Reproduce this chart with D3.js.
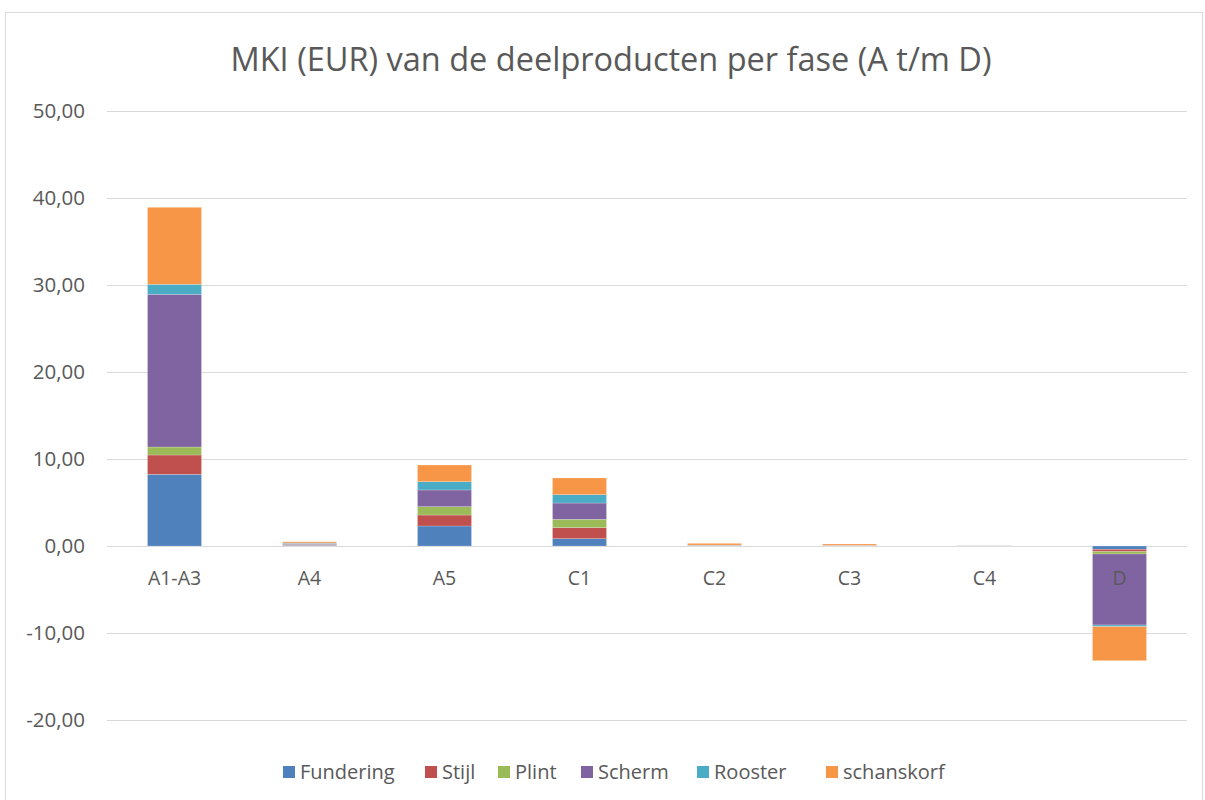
<!DOCTYPE html>
<html><head><meta charset="utf-8">
<script src="https://cdn.jsdelivr.net/npm/d3@7"></script>
<style>body{margin:0;background:#fff}svg{display:block}text{font-family:"Open Sans","Liberation Sans",sans-serif;fill:#595959}</style>
</head><body>
<script>
const categories = ["A1-A3","A4","A5","C1","C2","C3","C4","D"];
const seriesNames = ["Fundering","Stijl","Plint","Scherm","Rooster","schanskorf"];
const colors = ["#4f81bd","#c0504d","#9bbb59","#8064a2","#4bacc6","#f79646"];
const fundering = [8.24, 0.08, 2.30, 0.84, 0.02, 0.02, 0.01, -0.38];
const stijl      = [2.22, 0.04, 1.26, 1.27, 0.01, 0.01, 0.01, -0.27];
const plint      = [0.92, 0.05, 0.96, 0.96, 0.01, 0.01, 0.01, -0.27];
const scherm     = [17.55, 0.12, 1.92, 1.87, 0.04, 0.03, 0.01, -8.16];
const rooster    = [1.15, 0.05, 0.95, 0.96, 0.02, 0.01, 0.01, -0.19];
const schanskorf = [8.85, 0.14, 1.92, 1.92, 0.20, 0.15, 0.00, -3.91];
const yTicks = [-20, -10, 0, 10, 20, 30, 40, 50];
const title = "MKI (EUR) van de deelproducten per fase (A t/m D)";

const seriesValues = [fundering, stijl, plint, scherm, rooster, schanskorf];
const W = 1205, H = 800;
const svg = d3.select("body").append("svg").attr("width", W).attr("height", H);
svg.append("rect").attr("x",5.5).attr("y",12.5).attr("width",1197).attr("height",800)
  .attr("fill","#fff").attr("stroke","#d9d9d9");

const x = d3.scaleBand().domain(categories).range([107, 1187]).paddingInner(0.6).paddingOuter(0.3);
const y = d3.scaleLinear().domain([-20, 50]).range([720, 111]);

// gridlines
svg.append("g").selectAll("line").data(yTicks).join("line")
  .attr("x1",107).attr("x2",1187).attr("y1",d=>Math.round(y(d))+0.5).attr("y2",d=>Math.round(y(d))+0.5)
  .attr("stroke","#d9d9d9").attr("stroke-width",1);

// y axis labels
const fmt = d => d3.format(".2f")(d).replace(".", ",").replace("\u2212", "-");
svg.append("g").selectAll("text").data(yTicks).join("text")
  .attr("x",85).attr("y",d=>y(d)).attr("dy","0.35em").attr("text-anchor","end")
  .style("font-size","20.5px").text(fmt);

// stacked data
const rows = categories.map((c,i)=>{const o={cat:c}; seriesNames.forEach((s,j)=>o[s]=seriesValues[j][i]); return o;});
const stack = d3.stack().keys(seriesNames).offset(d3.stackOffsetDiverging);
const stacked = stack(rows);
svg.append("g").selectAll("g").data(stacked).join("g").attr("fill",(d,i)=>colors[i])
  .selectAll("rect").data(d=>d).join("rect")
  .attr("x",d=>x(d.data.cat)).attr("width",x.bandwidth())
  .attr("y",d=>y(Math.max(d[0],d[1]))).attr("height",d=>Math.abs(y(d[0])-y(d[1])))
  .attr("stroke","rgba(255,255,255,0.35)").attr("stroke-width",0.6);

// category labels
svg.append("g").selectAll("text").data(categories).join("text")
  .attr("x",d=>x(d)+x.bandwidth()/2).attr("y",578).attr("dy","0.35em").attr("text-anchor","middle")
  .style("font-size","19.5px").text(d=>d);

// title
svg.append("text").attr("x",611).attr("y",60).attr("dy","0.35em").attr("text-anchor","middle")
  .style("font-size","32.5px").text(title);

// legend
const legX = [283, 425, 498, 581, 697, 826];
const lg = svg.append("g").selectAll("g").data(seriesNames).join("g")
  .attr("transform",(d,i)=>`translate(${legX[i]},772)`);
lg.append("rect").attr("x",0).attr("y",-6).attr("width",12).attr("height",12).attr("fill",(d,i)=>colors[i]);
lg.append("text").attr("x",17).attr("y",0).attr("dy","0.35em").style("font-size","20px").text(d=>d);
</script>
</body></html>
